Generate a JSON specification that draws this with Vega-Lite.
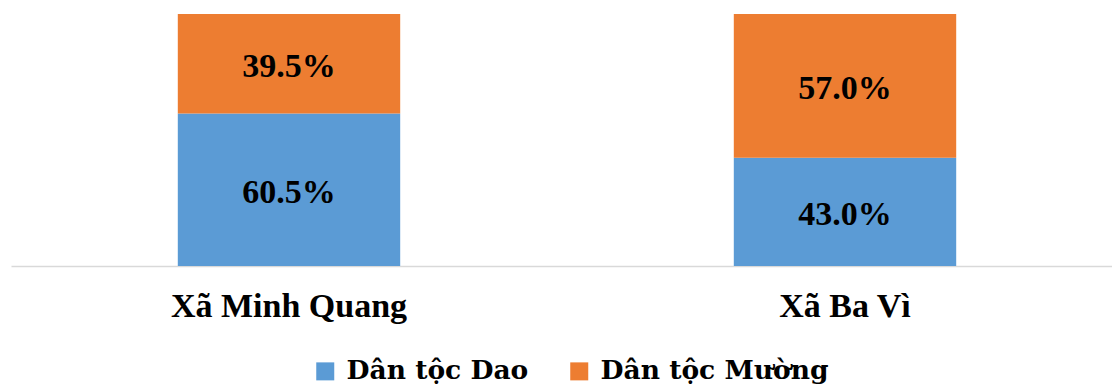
{
  "$schema": "https://vega.github.io/schema/vega-lite/v6.json",
  "autosize": "none",
  "width": 1112,
  "height": 252,
  "padding": {"left": 11, "top": 14, "right": 0, "bottom": 121},
  "background": "white",
  "config": {
    "view": {"stroke": null},
    "font": "Liberation Serif",
    "legend": {"orient": "none", "legendX": 301, "legendY": 344, "labelLimit": 0}
  },
  "data": {
    "values": [
      {"commune": "Xã Minh Quang", "group": "Dân tộc Dao", "share": 0.605},
      {"commune": "Xã Minh Quang", "group": "Dân tộc Mường", "share": 0.395},
      {"commune": "Xã Ba Vì", "group": "Dân tộc Dao", "share": 0.43},
      {"commune": "Xã Ba Vì", "group": "Dân tộc Mường", "share": 0.57}
    ]
  },
  "transform": [
    {"stack": "share", "groupby": ["commune"], "sort": [{"field": "group", "order": "ascending"}], "as": ["y0", "y1"]},
    {"calculate": "(datum.y0 + datum.y1) / 2", "as": "mid"}
  ],
  "encoding": {
    "x": {
      "field": "commune",
      "type": "nominal",
      "sort": ["Xã Minh Quang", "Xã Ba Vì"],
      "scale": {"paddingInner": 0.6, "paddingOuter": 0.3},
      "axis": {
        "title": null,
        "labelAngle": 0,
        "labelFont": "Liberation Serif",
        "labelFontWeight": "bold",
        "labelFontSize": 34,
        "labelColor": "black",
        "labelPadding": 23,
        "labelLimit": 0,
        "ticks": false,
        "domainColor": "#D9D9D9",
        "domainWidth": 1.5
      }
    }
  },
  "layer": [
    {
      "mark": {"type": "bar"},
      "encoding": {
        "y": {"field": "y0", "type": "quantitative", "scale": {"domain": [0, 1]}, "axis": null},
        "y2": {"field": "y1"},
        "color": {
          "field": "group",
          "type": "nominal",
          "scale": {"domain": ["Dân tộc Dao", "Dân tộc Mường"], "range": ["#5B9BD5", "#ED7D31"]},
          "legend": {
            "title": null,
            "direction": "horizontal",
            "symbolType": "square",
            "symbolSize": 324,
            "symbolStrokeWidth": 0,
            "labelFont": "DejaVu Serif",
            "labelFontWeight": "bold",
            "labelFontSize": 26.5,
            "labelColor": "black",
            "labelLimit": 0,
            "labelOffset": 8,
            "columnPadding": 37
          }
        }
      }
    },
    {
      "mark": {"type": "text", "font": "Liberation Serif", "fontWeight": "bold", "fontSize": 34, "color": "black", "baseline": "middle", "dy": 3},
      "encoding": {
        "y": {"field": "mid", "type": "quantitative"},
        "text": {"field": "share", "type": "quantitative", "format": ".1%"}
      }
    }
  ]
}
